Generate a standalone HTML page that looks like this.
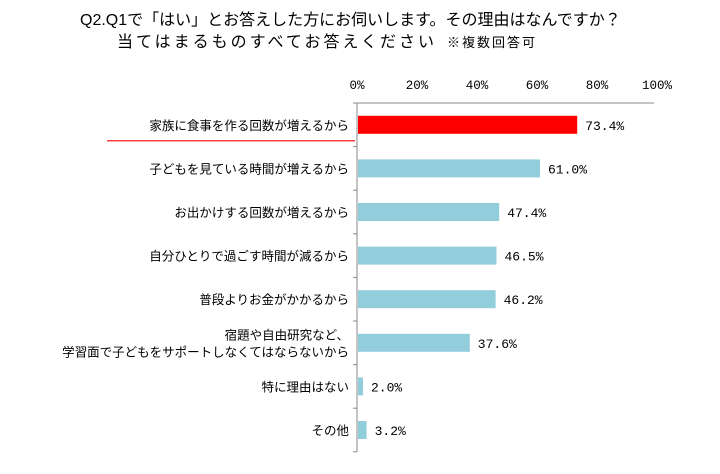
<!DOCTYPE html>
<html><head><meta charset="utf-8"><style>
body{margin:0;background:#fff;width:720px;height:469px;overflow:hidden;font-family:"Liberation Sans","Noto Sans CJK JP",sans-serif;}
</style></head><body>
<svg width="720" height="469" xmlns="http://www.w3.org/2000/svg">
<text x="80" y="25" font-size="16" fill="#000" font-family="Liberation Sans, Noto Sans CJK JP, sans-serif">Q2.Q1で「はい」とお答えした方にお伺いします。その理由はなんですか？</text>
<text x="117" y="47" font-size="16" letter-spacing="3" fill="#000" font-family="Liberation Sans, Noto Sans CJK JP, sans-serif">当てはまるものすべてお答えください<tspan font-size="13" letter-spacing="2" dx="10">※複数回答可</tspan></text>
<g id="plot"></g>
</svg>
<script>
const categories=[["家族に食事を作る回数が増えるから"],["子どもを見ている時間が増えるから"],["お出かけする回数が増えるから"],["自分ひとりで過ごす時間が減るから"],["普段よりお金がかかるから"],["宿題や自由研究など、","学習面で子どもをサポートしなくてはならないから"],["特に理由はない"],["その他"]];
const values=[73.4,61.0,47.4,46.5,46.2,37.6,2.0,3.2];
const tickLabels=["0%","20%","40%","60%","80%","100%"];
const tickValues=[0,20,40,60,80,100];
const NS="http://www.w3.org/2000/svg";
const g=document.getElementById("plot");
const x0=357,W=300,yTop=103,rowH=43.6;
const xs=v=>x0+v/100*W;
const yc=i=>yTop+(i+0.5)*rowH;
function mk(t,a){const e=document.createElementNS(NS,t);for(const k in a)e.setAttribute(k,a[k]);g.appendChild(e);return e;}
tickValues.forEach((v,i)=>{const t=mk("text",{x:xs(v),y:89,"font-size":12.5,"text-anchor":"middle","font-family":"Liberation Mono, monospace"});t.textContent=tickLabels[i];

});
const ax=mk("line",{x1:x0,y1:yTop,x2:x0+W-3,y2:yTop,stroke:"#888"});


const ay=mk("line",{x1:x0,y1:yTop,x2:x0,y2:yTop+rowH*categories.length,stroke:"#888"});


for(let i=0;i<=categories.length;i++){const tk=mk("line",{x1:x0-4,y1:yTop+i*rowH,x2:x0,y2:yTop+i*rowH,stroke:"#888"});

}
values.forEach((v,i)=>{
 const r=mk("rect",{x:x0+1,y:yc(i)-9,width:xs(v)-x0-1,height:18,fill:i==0?"#ff0000":"#92cddc"});
 
 
 const t=mk("text",{x:xs(v)+8,y:yc(i)+5,"font-size":13,"font-family":"Liberation Mono, monospace"});t.textContent=v.toFixed(1)+"%";
 
 
 const lines=categories[i];
 lines.forEach((s,j)=>{const c=mk("text",{x:349,y:yc(i)+5+(j-(lines.length-1)/2)*17,"font-size":12.5,"text-anchor":"end","font-family":"Liberation Sans, Noto Sans CJK JP, sans-serif"});c.textContent=s;
 
 });
});
const u=mk("line",{x1:107,y1:yc(0)+16,x2:x0-2,y2:yc(0)+16,stroke:"#ff0000","stroke-width":1.2});


</script>
</body></html>
